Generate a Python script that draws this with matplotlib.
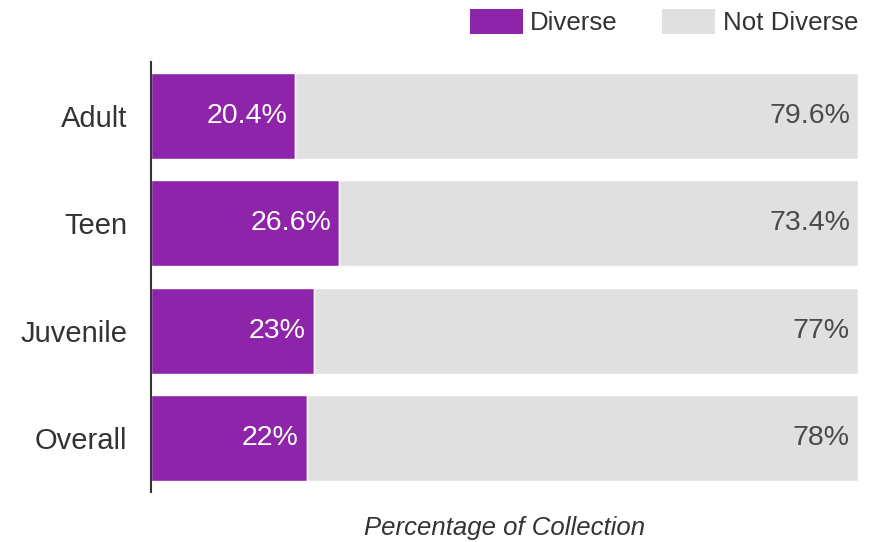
import matplotlib
matplotlib.use('Agg')
import matplotlib.pyplot as plt
from matplotlib.patches import Patch

plt.rcParams['font.family'] = ['Liberation Sans', 'DejaVu Sans']

# 数据
categories = ['Adult', 'Teen', 'Juvenile', 'Overall']
diverse = [20.4, 26.6, 23, 22]
not_diverse = [79.6, 73.4, 77, 78]
diverse_labels = ['20.4%', '26.6%', '23%', '22%']
not_diverse_labels = ['79.6%', '73.4%', '77%', '78%']

PURPLE = '#8E24AA'
GRAY = '#E0E0E0'
W, H = 874, 542

fig = plt.figure(figsize=(W / 100, H / 100), dpi=100)
ax = fig.add_axes([151 / W, 1 - 492 / H, (858 - 151) / W, (492 - 62) / H])

y = list(range(len(categories)))
ax.barh(y, diverse, height=0.8, color=PURPLE, edgecolor='white', linewidth=1)
ax.barh(y, not_diverse, left=diverse, height=0.8, color=GRAY, edgecolor='white', linewidth=1)

for i in y:
    ax.annotate(diverse_labels[i], (diverse[i], i), xytext=(-8, 0), textcoords='offset pixels',
                ha='right', va='center', fontsize=20.5, color='white')
    ax.annotate(not_diverse_labels[i], (diverse[i] + not_diverse[i], i), xytext=(-8, 0),
                textcoords='offset pixels', ha='right', va='center', fontsize=20.5, color='#4a4a4a')

ax.set_xlim(0, 100)
ax.set_ylim(len(categories) - 0.5, -0.5)
ax.set_yticks(y)
ax.set_yticklabels(categories, fontsize=21, color='#333333')
ax.tick_params(axis='y', length=0, pad=17)
ax.set_xticks([])
for s in ('top', 'right', 'bottom'):
    ax.spines[s].set_visible(False)
ax.spines['left'].set_color('#333333')
ax.spines['left'].set_linewidth(1.5)

fig.text(504.5 / W, 1 - 528 / H, 'Percentage of Collection', ha='center', va='center',
         fontsize=18.5, style='italic', color='#333333')

handles = [Patch(facecolor=PURPLE, label='Diverse'), Patch(facecolor=GRAY, label='Not Diverse')]
fig.legend(handles=handles, loc='center right', bbox_to_anchor=(858 / W, 1 - 22 / H),
           ncol=2, frameon=False, fontsize=18.6, handlelength=2.05, handleheight=1.12,
           handletextpad=0.3, columnspacing=1.7, borderpad=0, borderaxespad=0,
           labelcolor='#333333')

fig.savefig('out.png', dpi=100)
